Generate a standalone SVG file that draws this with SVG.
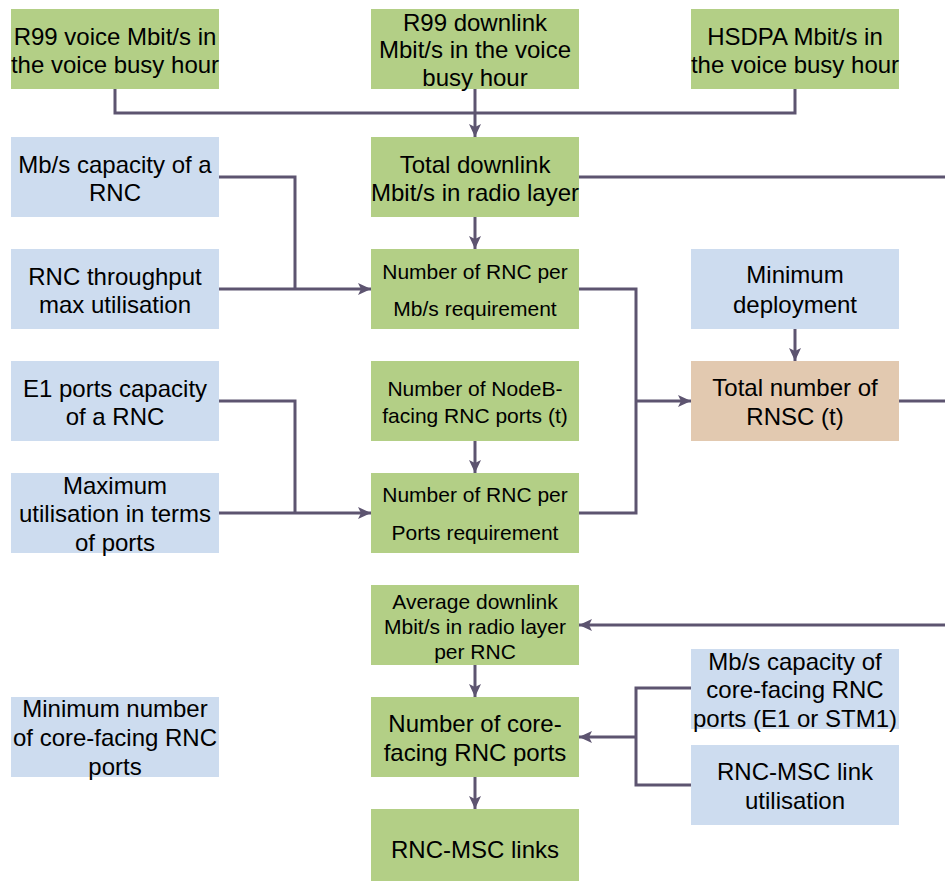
<svg xmlns="http://www.w3.org/2000/svg" width="945" height="881" viewBox="0 0 945 881">
<style>
.g{fill:#b3cf86}.b{fill:#cddcef}.p{fill:#e2c9b0}
text{font-family:"Liberation Sans",Arial,sans-serif;font-size:24px;fill:#000;text-anchor:middle}
text.s{font-size:21px}
.c{fill:none;stroke:#5d5470;stroke-width:3}
</style>
<defs>
<marker id="a" markerUnits="userSpaceOnUse" markerWidth="14" markerHeight="14" viewBox="0 0 14 14" refX="13" refY="7" orient="auto">
<path d="M0,1 L13,7 L0,13 L3,7 Z" fill="#5d5470"/>
</marker>
</defs>
<g id="connectors">
<path class="c" d="M115,89 V113 H795 V89"/>
<path class="c" d="M475,89 V137" marker-end="url(#a)"/>
<path class="c" d="M579,177 H945"/>
<path class="c" d="M475,217 V249" marker-end="url(#a)"/>
<path class="c" d="M219,177 H295 V289"/>
<path class="c" d="M219,289 H371" marker-end="url(#a)"/>
<path class="c" d="M579,289 H636 V513 H579"/>
<path class="c" d="M636,401 H691" marker-end="url(#a)"/>
<path class="c" d="M795,329 V361" marker-end="url(#a)"/>
<path class="c" d="M899,401 H945"/>
<path class="c" d="M219,401 H295 V513"/>
<path class="c" d="M219,513 H371" marker-end="url(#a)"/>
<path class="c" d="M475,441 V473" marker-end="url(#a)"/>
<path class="c" d="M945,625 H579" marker-end="url(#a)"/>
<path class="c" d="M475,665 V697" marker-end="url(#a)"/>
<path class="c" d="M691,688 H636 V785 H691"/>
<path class="c" d="M636,737 H579" marker-end="url(#a)"/>
<path class="c" d="M475,777 V809" marker-end="url(#a)"/>
</g>
<g id="r99voice"><rect class="g" x="11" y="9" width="208" height="80"/><text x="115" y="45">R99 voice Mbit/s in</text><text x="115" y="73">the voice busy hour</text></g>
<g id="r99downlink"><rect class="g" x="371" y="9" width="208" height="80"/><text x="475" y="31">R99 downlink</text><text x="475" y="58">Mbit/s in the voice</text><text x="475" y="86">busy hour</text></g>
<g id="hsdpa"><rect class="g" x="691" y="9" width="208" height="80"/><text x="795" y="45">HSDPA Mbit/s in</text><text x="795" y="73">the voice busy hour</text></g>
<g id="mbcap"><rect class="b" x="11" y="137" width="208" height="80"/><text x="115" y="173">Mb/s capacity of a</text><text x="115" y="201">RNC</text></g>
<g id="totaldl"><rect class="g" x="371" y="137" width="208" height="80"/><text x="475" y="173">Total downlink</text><text x="475" y="201">Mbit/s in radio layer</text></g>
<g id="rncthru"><rect class="b" x="11" y="249" width="208" height="80"/><text x="115" y="285">RNC throughput</text><text x="115" y="313">max utilisation</text></g>
<g id="rncmbs"><rect class="g" x="371" y="249" width="208" height="80"/><text class="s" x="475" y="279">Number of RNC per</text><text class="s" x="475" y="316">Mb/s requirement</text></g>
<g id="mindeploy"><rect class="b" x="691" y="249" width="208" height="80"/><text x="795" y="283">Minimum</text><text x="795" y="313">deployment</text></g>
<g id="e1ports"><rect class="b" x="11" y="361" width="208" height="80"/><text x="115" y="397">E1 ports capacity</text><text x="115" y="425">of a RNC</text></g>
<g id="nodebports"><rect class="g" x="371" y="361" width="208" height="80"/><text class="s" x="475" y="396">Number of NodeB-</text><text class="s" x="475" y="423">facing RNC ports (t)</text></g>
<g id="totalrnsc"><rect class="p" x="691" y="361" width="208" height="80"/><text x="795" y="396">Total number of</text><text x="795" y="425">RNSC (t)</text></g>
<g id="maxutil"><rect class="b" x="11" y="473" width="208" height="80"/><text x="115" y="494">Maximum</text><text x="115" y="522">utilisation in terms</text><text x="115" y="551">of ports</text></g>
<g id="rncports"><rect class="g" x="371" y="473" width="208" height="80"/><text class="s" x="475" y="502">Number of RNC per</text><text class="s" x="475" y="540">Ports requirement</text></g>
<g id="avgdl"><rect class="g" x="371" y="585" width="208" height="80"/><text class="s" x="475" y="609">Average downlink</text><text class="s" x="475" y="634">Mbit/s in radio layer</text><text class="s" x="475" y="659">per RNC</text></g>
<g id="mincore"><rect class="b" x="11" y="697" width="208" height="80"/><text x="115" y="717">Minimum number</text><text x="115" y="746">of core-facing RNC</text><text x="115" y="775">ports</text></g>
<g id="coreports"><rect class="g" x="371" y="697" width="208" height="80"/><text x="475" y="732">Number of core-</text><text x="475" y="761">facing RNC ports</text></g>
<g id="mbcore"><rect class="b" x="691" y="649" width="208" height="80"/><text x="795" y="670">Mb/s capacity of</text><text x="795" y="698">core-facing RNC</text><text x="795" y="727">ports (E1 or STM1)</text></g>
<g id="linkutil"><rect class="b" x="691" y="745" width="208" height="80"/><text x="795" y="780">RNC-MSC link</text><text x="795" y="809">utilisation</text></g>
<g id="msclinks"><rect class="g" x="371" y="809" width="208" height="80"/><text x="475" y="858">RNC-MSC links</text></g>
</svg>
